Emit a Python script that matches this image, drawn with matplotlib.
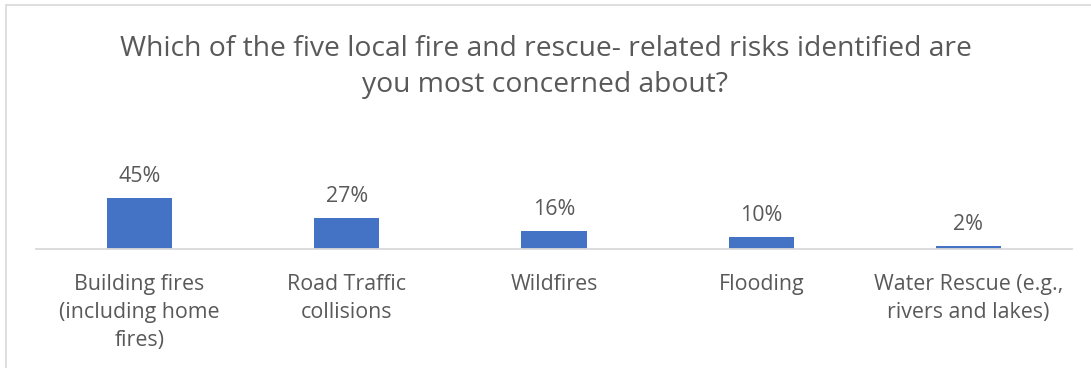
import matplotlib
matplotlib.use("Agg")
import matplotlib.pyplot as plt
from matplotlib.patches import Rectangle

categories = [
    "Building fires\n(including home\nfires)",
    "Road Traffic\ncollisions",
    "Wildfires",
    "Flooding",
    "Water Rescue (e.g.,\nrivers and lakes)",
]
shares = [45, 27, 16, 10, 2]
title = ("Which of the five local fire and rescue- related risks identified are\n"
         "you most concerned about?")

BAR = "#4472C4"
TEXT = "#595959"
GRID = "#D9D9D9"

plt.rcParams["font.family"] = ["Open Sans", "DejaVu Sans"]

W, H = 1091, 368
fig = plt.figure(figsize=(W / 100, H / 100), dpi=100)

# chart frame (left/top edges visible)
fig.patches.append(Rectangle((6 / W, -0.1), 1.2, (H - 5) / H + 0.1,
                             transform=fig.transFigure, fill=False,
                             edgecolor=GRID, linewidth=1.2))

ax_left, ax_right = 36 / W, 1072 / W
ax_bottom = 1 - 248.5 / H
ax_top = 1 - 159.1 / H
ax = fig.add_axes([ax_left, ax_bottom, ax_right - ax_left, ax_top - ax_bottom])

x = list(range(len(categories)))
bars = ax.bar(x, shares, width=0.314, color=BAR, zorder=2)
ax.set_xlim(-0.5, len(categories) - 0.5)
ax.set_ylim(0, 80)

for rect, v in zip(bars, shares):
    ax.annotate(f"{v}%", (rect.get_x() + rect.get_width() / 2, v),
                xytext=(0, 8), textcoords="offset points",
                ha="center", va="bottom", fontsize=15.4, color=TEXT)

ax.set_xticks(x)
ax.set_xticklabels(categories, fontsize=15.4, color=TEXT, linespacing=1.42)
ax.tick_params(axis="x", length=0, pad=18.5)
ax.set_yticks([])
for side in ("left", "right", "top"):
    ax.spines[side].set_visible(False)
ax.spines["bottom"].set_color(GRID)
ax.spines["bottom"].set_linewidth(1.3)
ax.patch.set_visible(False)

fig.text(0.5, 1 - 67 / H, title, ha="center", va="center",
         fontsize=20.3, color=TEXT, linespacing=1.41)

fig.savefig("out.png", dpi=100)
